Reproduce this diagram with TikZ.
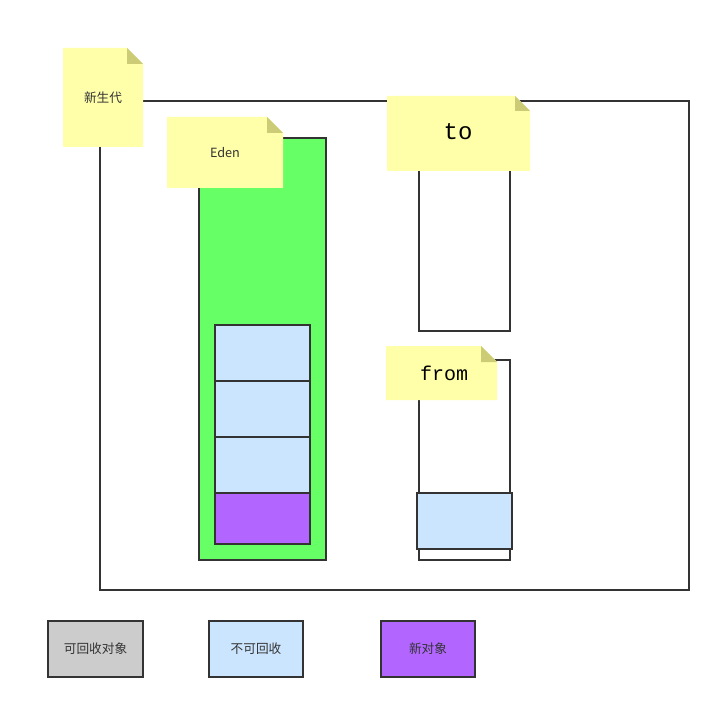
\documentclass[tikz,border=0pt]{standalone}
\usepackage{fontspec}
\setmainfont{Noto Sans CJK SC}
\newfontfamily\monofont{Liberation Mono}
\usepackage{tikz}
\tikzset{every picture/.style={line width=1.5pt}}
\definecolor{linegray}{RGB}{51,51,51}
\definecolor{noteyellow}{RGB}{255,255,170}
\definecolor{notefold}{RGB}{204,204,119}
\definecolor{edengreen}{RGB}{102,255,102}
\definecolor{liveblue}{RGB}{204,229,255}
\definecolor{newpurple}{RGB}{178,102,255}
\definecolor{deadgray}{RGB}{204,204,204}
\tikzset{
  box/.style={draw=linegray},
  note/.style={fill=noteyellow},
  fold/.style={fill=notefold},
  label/.style={inner sep=0.75pt, text=linegray, font=\fontsize{9.5}{11}\selectfont},
  bigtext/.style={inner sep=0.75pt, text=black, font=\monofont\fontsize{15}{18}\selectfont}
}

\begin{document}
\begin{tikzpicture}[x=0.75pt,y=0.75pt,yscale=-1]
\useasboundingbox (0,0) rectangle (720,709);

%Young generation
\draw [box] (100,101) rectangle (689,590) ;
\fill [note] (63,48) -- (127,48) -- (143,64) -- (143,147) -- (63,147) -- cycle ;
\fill [fold] (127,48) -- (143,64) -- (127,64) -- cycle ;
\node [label] (young) at (103,98) {新生代};

%Eden
\draw [box, fill=edengreen] (199,138) rectangle (326,560) ;
\fill [note] (167,117) -- (267,117) -- (283,133) -- (283,188) -- (167,188) -- cycle ;
\fill [fold] (267,117) -- (283,133) -- (267,133) -- cycle ;
\node [label] (eden) at (225,153) {Eden};
\draw [box, fill=liveblue] (215,325) rectangle (310,381) ;
\draw [box, fill=liveblue] (215,381) rectangle (310,437) ;
\draw [box, fill=liveblue] (215,437) rectangle (310,493) ;
\draw [box, fill=newpurple] (215,493) rectangle (310,544) ;

%To survivor
\draw [box] (419,140) rectangle (510,331) ;
\fill [note] (387,96) -- (515,96) -- (530,111) -- (530,171) -- (387,171) -- cycle ;
\fill [fold] (515,96) -- (530,111) -- (515,111) -- cycle ;
\node [bigtext, font=\monofont\fontsize{18}{21}\selectfont] (to) at (458,132) {to};

%From survivor
\draw [box] (419,360) rectangle (510,560) ;
\fill [note] (386,346) -- (481,346) -- (497,362) -- (497,400) -- (386,400) -- cycle ;
\fill [fold] (481,346) -- (497,362) -- (481,362) -- cycle ;
\node [bigtext] (from) at (444,373) {from};
\draw [box, fill=liveblue] (417,493) rectangle (512,549) ;

%Legend
\node [box, fill=deadgray, minimum width=71.25pt, minimum height=42pt, label] (dead) at (95.5,649) {可回收对象};
\node [box, fill=liveblue, minimum width=70.5pt, minimum height=42pt, label] (live) at (256,649) {不可回收};
\node [box, fill=newpurple, minimum width=70.5pt, minimum height=42pt, label] (new) at (428,649) {新对象};

\end{tikzpicture}
\end{document}
